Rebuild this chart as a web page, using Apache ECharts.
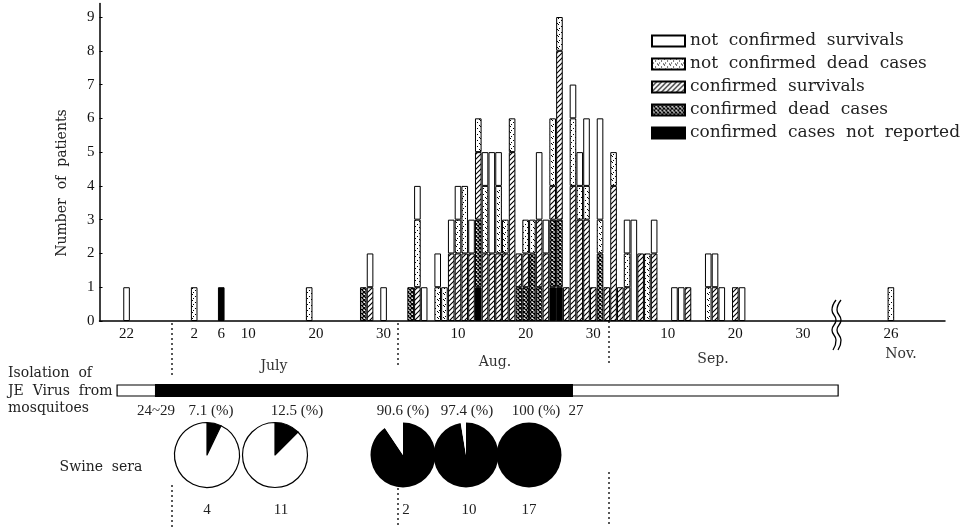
<!DOCTYPE html>
<html><head><meta charset="utf-8">
<script src="https://cdn.jsdelivr.net/npm/echarts@6/dist/echarts.min.js"></script>
<style>html,body{margin:0;padding:0;background:#fff}#c{width:978px;height:527px}</style>
</head><body><div id="c"></div>
<script>
// ---- DATA (day index: 0 = June 1; Oct–Nov compressed after the axis break) ----
const days          = [21,31,35,48,56,57,59,63,64,65,67,68,69,70,71,72,73,74,75,76,77,78,79,80,81,82,83,84,85,86,87,88,89,90,91,92,93,94,95,96,97,98,99,102,103,104,107,108,109,111,112,134];
const notConfSurv   = [1,0,0,0,0,1,1,0,1,1,1,0,1,1,0,1,0,1,3,1,0,0,0,0,0,2,1,0,0,0,1,1,2,0,3,0,0,0,1,3,0,0,1,1,1,0,1,1,1,0,1,0];
const notConfDead   = [0,1,0,1,0,0,0,0,2,0,1,1,0,1,2,0,1,2,0,2,1,1,0,1,1,0,0,2,1,0,2,1,1,0,1,0,1,0,1,0,0,2,0,0,0,0,1,0,0,0,0,1];
const confSurv      = [0,0,0,0,0,1,0,0,1,0,0,0,2,2,2,2,2,2,2,2,2,5,1,1,0,2,2,1,5,1,4,3,3,1,0,1,4,1,1,0,2,0,2,0,0,1,0,1,0,1,0,0];
const confDead      = [0,0,0,0,1,0,0,1,0,0,0,0,0,0,0,0,2,0,0,0,0,0,1,1,2,1,0,2,2,0,0,0,0,0,2,0,0,0,0,0,0,0,0,0,0,0,0,0,0,0,0,0];
const confNotRep    = [0,0,1,0,0,0,0,0,0,0,0,0,0,0,0,0,1,0,0,0,0,0,0,0,0,0,0,1,1,0,0,0,0,0,0,0,0,0,0,0,0,0,0,0,0,0,0,0,0,0,0,0];
const seriesNames   = ['confirmed  cases  not  reported','confirmed  dead  cases','confirmed  survivals','not  confirmed  dead  cases','not  confirmed  survivals'];
const tickDays      = [21,31,35,39,49,59,70,80,90,101,111,121,134];
const tickLabels    = ['22','2','6','10','20','30','10','20','30','10','20','30','26'];
const monthNames    = ['July','Aug.','Sep.','Nov.'];
const isolationDays = [19.6, 25.2, 87, 126.2];   // outline start, positive start, positive end, outline end
const isolationText = ['24~29','27'];
const seraPct       = [7.1, 12.5, 90.6, 97.4, 100];
const seraDates     = ['4','11','2','10','17'];

// ---- LAYOUT / STYLE ----
const firstDay = 17, lastDay = 142;
const monthPos  = [[274,366],[495,362],[713,359],[901,354]];
const pieX      = [207,275,403,466,529];
const pieY      = 455, pieR = 32.5;
const pctX      = [211,297,403,467,536];
const isoTextX  = [156,576];
const dateX     = [207,281,406,469,529];

// full daily category table built from the arrays above
const cats=[];for(let d=firstDay;d<=lastDay;d++)cats.push(String(d));
function expand(arr){const out=cats.map(()=>'-');days.forEach((d,i)=>{if(arr[i]>0)out[d-firstDay]=arr[i];});return out;}

function mkPattern(type){
  const c=document.createElement('canvas');
  const g=c.getContext('2d');
  if(type==='dots'){c.width=6;c.height=6;g.fillStyle='#fff';g.fillRect(0,0,6,6);g.fillStyle='#000';
    [[0,0],[3,2],[1,4],[5,5]].forEach(p=>g.fillRect(p[0],p[1],1,1));}
  else if(type==='hatch'){c.width=5;c.height=5;g.fillStyle='#fff';g.fillRect(0,0,5,5);g.strokeStyle='#000';g.lineWidth=1.1;
    g.beginPath();g.moveTo(-1,6);g.lineTo(6,-1);g.moveTo(-1,1);g.lineTo(1,-1);g.moveTo(4,6);g.lineTo(6,4);g.stroke();}
  else if(type==='cross'){c.width=4;c.height=4;g.fillStyle='#fff';g.fillRect(0,0,4,4);g.strokeStyle='#000';g.lineWidth=1.3;
    g.beginPath();g.moveTo(-1,5);g.lineTo(5,-1);g.moveTo(-1,-1);g.lineTo(5,5);g.stroke();}
  return {image:c,repeat:'repeat'};
}
const fills=['#000',mkPattern('cross'),mkPattern('hatch'),mkPattern('dots'),'#fff'];
const values=[confNotRep,confDead,confSurv,notConfDead,notConfSurv];

const chart=echarts.init(document.getElementById('c'),null,{renderer:'canvas'});
const serif='Liberation Serif';
const dserif='DejaVu Serif';

const barSeries=values.map((arr,k)=>({
  name:seriesNames[k],type:'bar',stack:'p',barWidth:6.6,
  data:expand(arr),
  itemStyle:{color:fills[k],borderColor:'#000',borderWidth:1},
  animation:false,silent:true
}));
const pieSeries=seraPct.map((p,i)=>({
  type:'pie',center:[pieX[i],pieY],radius:pieR,startAngle:90,clockwise:true,
  label:{show:false},labelLine:{show:false},silent:true,animation:false,
  itemStyle:{borderColor:'#000',borderWidth:p<50?1.2:0},
  data:[{value:p,itemStyle:{color:'#000'}},{value:100-p,itemStyle:{color:'#fff'}}]
}));

chart.setOption({
  backgroundColor:'#fff',animation:false,
  grid:{left:99.5,right:33,top:3.5,bottom:206},
  xAxis:{type:'category',data:cats,boundaryGap:false,splitLine:{show:false},
    axisLine:{lineStyle:{color:'#000',width:1.5}},axisTick:{show:false},
    axisLabel:{interval:(i,v)=>tickDays.indexOf(+v)>=0,formatter:v=>tickLabels[tickDays.indexOf(+v)],
      fontFamily:serif,fontSize:15,color:'#111',margin:6}},
  yAxis:{type:'value',min:0,max:9.4,interval:1,splitLine:{show:false},
    axisLine:{show:true,lineStyle:{color:'#000',width:1.5}},
    axisTick:{show:true,inside:true,length:3,lineStyle:{color:'#000'}},
    axisLabel:{showMaxLabel:false,fontFamily:serif,fontSize:15,color:'#111',margin:5}},
  legend:{data:seriesNames.slice().reverse(),orient:'vertical',left:646,top:27.5,itemWidth:33,itemHeight:11,itemGap:6,
    icon:'rect',textStyle:{fontFamily:dserif,fontSize:17,color:'#222'}},
  series:barSeries.concat(pieSeries)
});

const pA=chart.convertToPixel({xAxisIndex:0},0), pB=chart.convertToPixel({xAxisIndex:0},1);
const px=d=>pA+(d-firstDay)*(pB-pA);
const txt=(t,x,y,o)=>Object.assign({type:'text',x:x,y:y,style:Object.assign({text:t,fill:'#222',font:'14px "'+dserif+'"',align:'left',verticalAlign:'middle'},o||{})});
const dline=(x,y1,y2)=>({type:'line',shape:{x1:x,y1:y1,x2:x,y2:y2},style:{stroke:'#222',lineWidth:1.5,lineDash:[2,3]}});
const g=[];
g.push(Object.assign(txt('Number  of  patients',62,183,{align:'center',font:'14px "'+dserif+'"'}),{rotation:Math.PI/2}));
monthNames.forEach((m,i)=>g.push(txt(m,monthPos[i][0],monthPos[i][1],{align:'center',font:'14px "'+dserif+'"',fill:'#333'})));
g.push(txt('Isolation  of',8,373),txt('JE  Virus  from',8,391),txt('mosquitoes',8,408));
g.push(txt('Swine  sera',101,467,{align:'center'}));
// isolation bar
const x0=px(isolationDays[0]),x1=px(isolationDays[1]),x2=px(isolationDays[2]),x3=px(isolationDays[3]);
g.push({type:'rect',shape:{x:x0,y:385,width:x3-x0,height:11},style:{fill:'#fff',stroke:'#000',lineWidth:1.2}});
g.push({type:'rect',shape:{x:x1,y:384,width:x2-x1,height:13},style:{fill:'#000'}});
g.push(txt(isolationText[0],isoTextX[0],411,{align:'center',font:'15px "'+serif+'"'}));
g.push(txt(isolationText[1],isoTextX[1],411,{align:'center',font:'15px "'+serif+'"'}));
seraPct.forEach((p,i)=>g.push(txt(p+' (%)',pctX[i],411,{align:'center',font:'15px "'+serif+'"'})));
seraDates.forEach((d,i)=>g.push(txt(d,dateX[i],510,{align:'center',font:'15px "'+serif+'"'})));
// dotted separators
g.push(dline(172,323,377),dline(172,485,527),dline(398,323,368),dline(398,488,527),dline(609,321,365),dline(609,472,527));
// axis break
g.push({type:'rect',shape:{x:832,y:314,width:9,height:12},style:{fill:'#fff'}});
g.push({type:'polyline',shape:{points:[[836,300],[832,310],[836,320],[832,330],[836,340],[833,350]],smooth:0.5},style:{stroke:'#000',lineWidth:1.3,fill:null}});
g.push({type:'polyline',shape:{points:[[841,300],[837,310],[841,320],[837,330],[841,340],[838,350]],smooth:0.5},style:{stroke:'#000',lineWidth:1.3,fill:null}});
chart.setOption({graphic:{elements:g}});
</script></body></html>
